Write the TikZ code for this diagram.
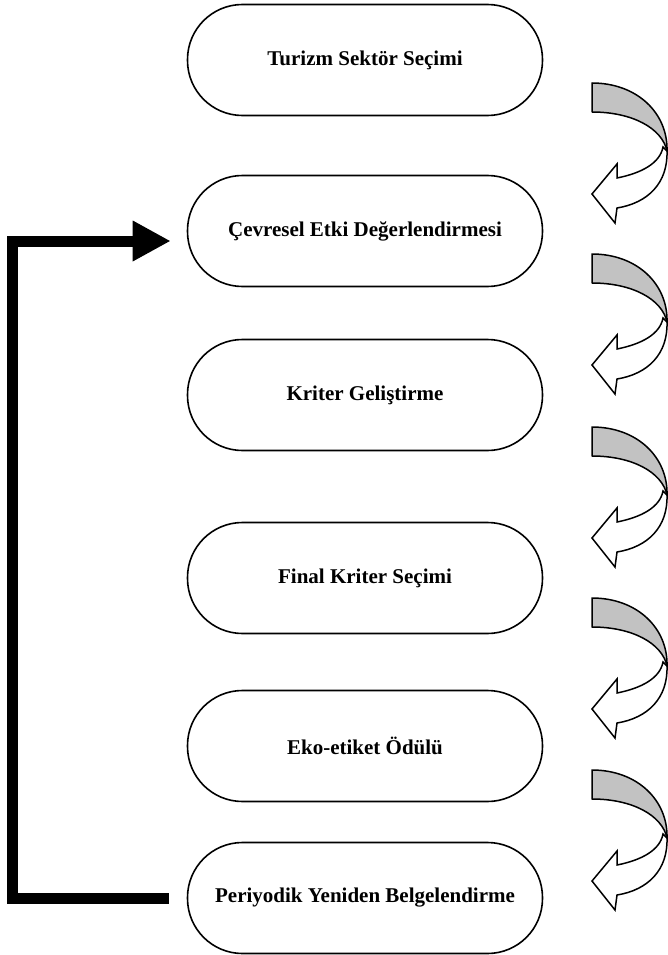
\documentclass[tikz,border=0pt]{standalone}
\usepackage{fontspec}
\setmainfont{Liberation Serif}
\usetikzlibrary{arrows.meta}
\tikzset{
  pill/.style={draw=black, line width=1.6pt, fill=white, rounded corners=55pt,
    minimum width=355pt, minimum height=111pt, inner sep=0pt,
    font=\bfseries\fontsize{21}{24}\selectfont},
  curlgray/.style={draw=black, line width=1.5pt, fill=black!24, line join=round},
  curlwhite/.style={draw=black, line width=1.5pt, fill=white, line join=miter},
  feedback/.style={line width=11pt, line join=miter, line cap=butt,
    -{Triangle[length=38pt,width=38pt]}},
  curlarrow/.pic={
    \draw[curlwhite] (75,68) .. controls (76,100) and (56,120) .. (25,125)
      -- (23,140) -- (0,111) -- (25,81) -- (25,95)
      .. controls (50,90) and (68,80) .. (71,64) -- cycle;
    \draw[curlgray] (0,0) .. controls (45,0) and (76,30) .. (75,68)
      .. controls (70,45) and (40,29) .. (0,29) -- cycle;
  }
}
\begin{document}
\begin{tikzpicture}[x=1pt,y=-1pt]
\useasboundingbox (0,0) rectangle (667,955);
\node[pill] (b1) at (365,60) {Turizm Sektör Seçimi};
\node[pill] (b2) at (365,231) {Çevresel Etki Değerlendirmesi};
\node[pill] (b3) at (365,395) {Kriter Geliştirme};
\node[pill] (b4) at (365,578) {Final Kriter Seçimi};
\node[pill] (b5) at (365,746) {Eko-etiket Ödülü};
\node[pill] (b6) at (365,898) {Periyodik Yeniden Belgelendirme};
\pic at (592,83) {curlarrow};
\pic at (592,254) {curlarrow};
\pic at (592,427) {curlarrow};
\pic at (592,598) {curlarrow};
\pic at (592,770) {curlarrow};
\coordinate (fbS) at ([xshift=-18pt]b6.west);
\coordinate (fbE) at ([xshift=-16pt,yshift=-10pt]b2.west);
\draw[feedback] (fbS) -- (12,898) -- (12,241) -- (fbE);
\end{tikzpicture}
\end{document}
